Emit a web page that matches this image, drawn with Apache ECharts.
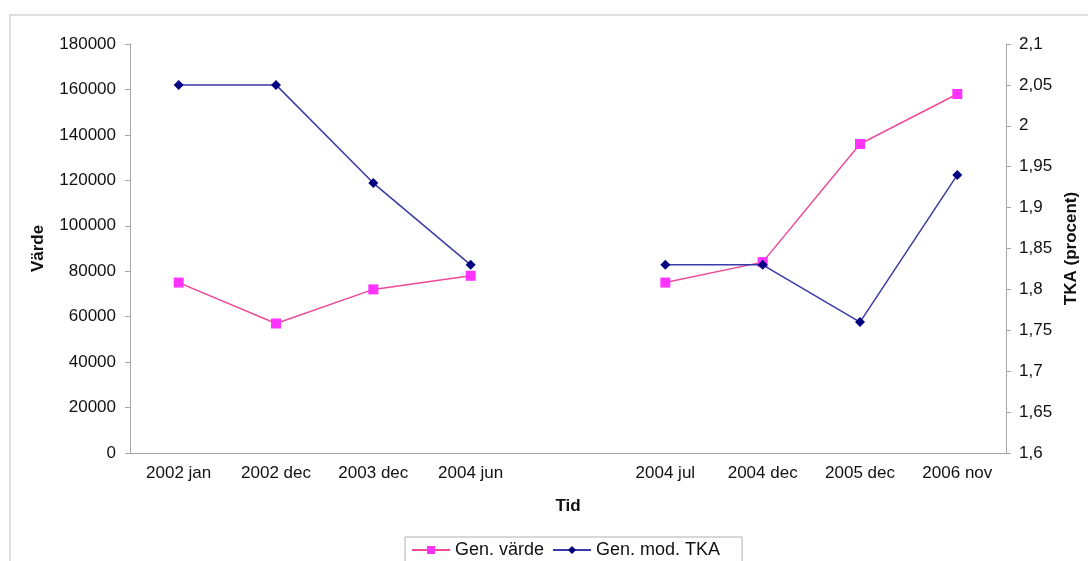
<!DOCTYPE html>
<html>
<head>
<meta charset="utf-8">
<script src="https://cdn.jsdelivr.net/npm/echarts@6/dist/echarts.min.js"></script>
<style>
  html, body { margin: 0; padding: 0; background: #fff; }
  #chart { width: 1088px; height: 561px; }
</style>
</head>
<body>
<div id="chart"></div>
<script>
// tidpunkter (tom kategori = glappet i mitten)
const periods = ['2002 jan', '2002 dec', '2003 dec', '2004 jun', '', '2004 jul', '2004 dec', '2005 dec', '2006 nov']
const genVarde = [75000, 57000, 72000, 78000, null, 75000, 84000, 136000, 158000]
const genModTka = [2.05, 2.05, 1.93, 1.83, null, 1.83, 1.83, 1.76, 1.94]

const font = '"Liberation Sans", Arial, sans-serif'
const axisGray = '#a6a6a6'

const chart = echarts.init(document.getElementById('chart'))

const option = {
  animation: false,
  textStyle: { fontFamily: font },
  graphic: [
    {
      type: 'rect',
      shape: { x: 10, y: 15, width: 1200, height: 700 },
      style: { fill: 'none', stroke: '#d4d4d4', lineWidth: 1.5 },
      silent: true
    }
  ],
  grid: { left: 130, right: 79, top: 44, bottom: 108 },
  legend: {
    left: 405,
    top: 537,
    itemWidth: 38,
    itemHeight: 10,
    itemGap: 8,
    padding: [4, 22, 4, 6],
    borderColor: '#b0b0b0',
    borderWidth: 1,
    borderRadius: 0,
    textStyle: { fontSize: 18, color: '#111', fontFamily: font },
    data: ['Gen. värde', 'Gen. mod. TKA']
  },
  xAxis: {
    type: 'category',
    data: periods,
    boundaryGap: true,
    name: 'Tid',
    nameLocation: 'middle',
    nameGap: 45,
    nameTextStyle: { fontSize: 17, fontWeight: 'bold', color: '#111' },
    axisLine: { lineStyle: { color: axisGray } },
    axisTick: { length: 5, lineStyle: { color: axisGray } },
    axisLabel: { fontSize: 17, color: '#111', margin: 12, interval: 0 },
    splitLine: { show: false }
  },
  yAxis: [
    {
      type: 'value',
      min: 0,
      max: 180000,
      interval: 20000,
      name: 'Värde',
      nameLocation: 'middle',
      nameRotate: 90,
      nameGap: 83,
      nameTextStyle: { fontSize: 17, fontWeight: 'bold', color: '#111' },
      axisLine: { show: true, lineStyle: { color: axisGray } },
      axisTick: { show: true, length: 5, lineStyle: { color: axisGray } },
      axisLabel: { fontSize: 17, color: '#111', margin: 14, formatter: v => String(v) },
      splitLine: { show: false }
    },
    {
      type: 'value',
      min: 1.6,
      max: 2.1,
      interval: 0.05,
      position: 'right',
      name: 'TKA (procent)',
      nameLocation: 'middle',
      nameRotate: 90,
      nameGap: 57,
      nameTextStyle: { fontSize: 17, fontWeight: 'bold', color: '#111' },
      axisLine: { show: true, lineStyle: { color: axisGray } },
      axisTick: { show: true, length: 5, lineStyle: { color: axisGray } },
      axisLabel: {
        fontSize: 17,
        color: '#111',
        margin: 13,
        formatter: v => String(+v.toFixed(2)).replace('.', ',')
      },
      splitLine: { show: false }
    }
  ],
  series: [
    {
      name: 'Gen. värde',
      type: 'line',
      yAxisIndex: 0,
      data: genVarde,
      connectNulls: false,
      symbol: 'rect',
      symbolSize: 10,
      lineStyle: { color: '#ee4a9a', width: 1.5 },
      itemStyle: { color: '#ff33ff', borderWidth: 0 },
      z: 2
    },
    {
      name: 'Gen. mod. TKA',
      type: 'line',
      yAxisIndex: 1,
      data: genModTka,
      connectNulls: false,
      symbol: 'diamond',
      symbolSize: 10,
      lineStyle: { color: '#3a3aa8', width: 1.5 },
      itemStyle: { color: '#000080', borderWidth: 0 },
      z: 3
    }
  ]
}

chart.setOption(option)
</script>
</body>
</html>
